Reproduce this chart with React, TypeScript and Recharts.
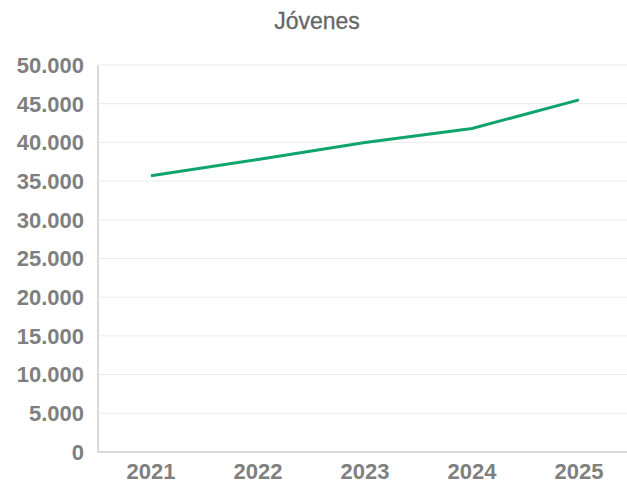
import React from "react";
import { LineChart, Line, XAxis, YAxis, CartesianGrid } from "recharts";

const years = ["2021", "2022", "2023", "2024", "2025"];
const jovenes = [35700, 37800, 40000, 41800, 45500];
const yTicks = [0, 5000, 10000, 15000, 20000, 25000, 30000, 35000, 40000, 45000, 50000];
const title = "Jóvenes";

const data = years.map((y, i) => ({ year: y, value: jovenes[i] }));

const fmt = (v: number) => String(v).replace(/\B(?=(\d{3})+(?!\d))/g, ".");

const FONT = "'Liberation Sans', Arial, sans-serif";

export default function App() {
  return (
    <div style={{ position: "absolute", left: 0, top: 0, width: 627, height: 484, overflow: "hidden", background: "#fff" }}>
      <div
        style={{
          position: "absolute",
          left: 0,
          width: 634,
          top: 8,
          textAlign: "center",
          fontFamily: FONT,
          fontSize: 23,
          color: "#666666",
          lineHeight: "26px",
          WebkitTextStroke: "0.3px #666666",
        }}
      >
        {title}
      </div>
      <LineChart width={635} height={484} data={data} margin={{ top: 65, right: 2, bottom: 2, left: 0 }}>
        <CartesianGrid horizontal vertical={false} stroke="#ebebeb" strokeWidth={1} />
        <XAxis
          dataKey="year"
          height={30}
          padding={{ left: 53, right: 54 }}
          tickSize={0}
          tickMargin={11}
          axisLine={{ stroke: "#d9d9d9", strokeWidth: 2 }}
          tickLine={false}
          tick={{ fill: "#7f7f7f", fontSize: 22, fontWeight: 700, fontFamily: FONT }}
        />
        <YAxis
          width={98}
          domain={[0, 50000]}
          ticks={yTicks}
          interval={0}
          tickFormatter={fmt}
          tickSize={0}
          tickMargin={14}
          axisLine={{ stroke: "#d9d9d9", strokeWidth: 2 }}
          tickLine={false}
          tick={{ fill: "#7f7f7f", fontSize: 22, fontWeight: 700, fontFamily: FONT }}
        />
        <Line
          dataKey="value"
          type="linear"
          stroke="#0fa46c"
          strokeWidth={3}
          dot={false}
          isAnimationActive={false}
        />
      </LineChart>
    </div>
  );
}
